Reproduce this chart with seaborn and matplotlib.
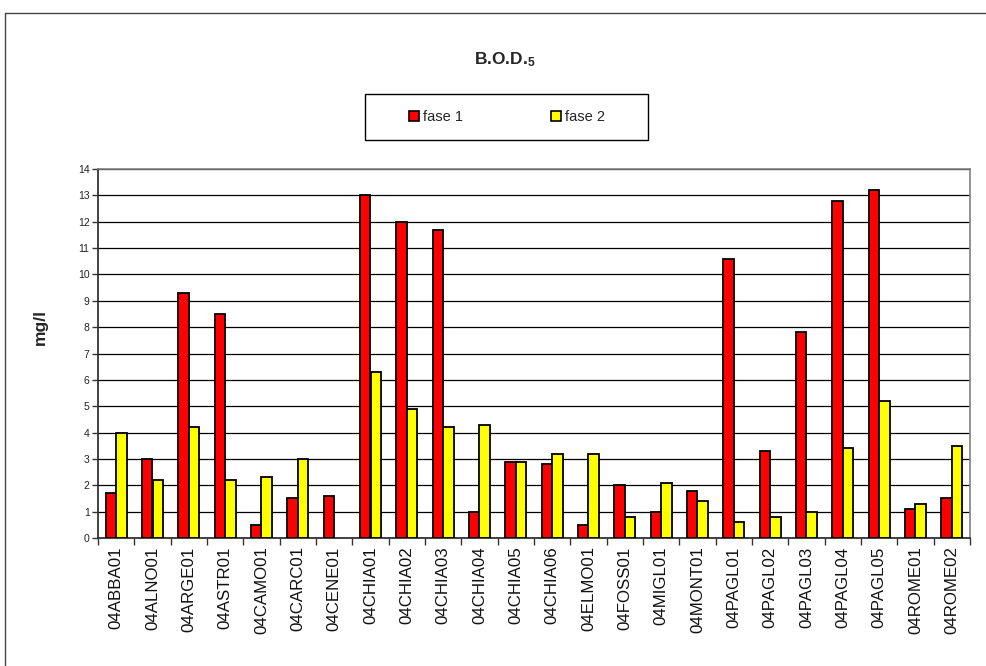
import matplotlib
matplotlib.use("Agg")
import matplotlib.pyplot as plt
from matplotlib.lines import Line2D
from matplotlib.patches import Rectangle, Patch
import numpy as np
import pandas as pd
import seaborn as sns

stations = ["04ABBA01", "04ALNO01", "04ARGE01", "04ASTR01", "04CAMO01", "04CARC01",
            "04CENE01", "04CHIA01", "04CHIA02", "04CHIA03", "04CHIA04", "04CHIA05",
            "04CHIA06", "04ELMO01", "04FOSS01", "04MIGL01", "04MONT01", "04PAGL01",
            "04PAGL02", "04PAGL03", "04PAGL04", "04PAGL05", "04ROME01", "04ROME02"]
fase1 = [1.7, 3.0, 9.3, 8.5, 0.5, 1.5, 1.6, 13.0, 12.0, 11.7, 1.0, 2.9,
         2.8, 0.5, 2.0, 1.0, 1.8, 10.6, 3.3, 7.8, 12.8, 13.2, 1.1, 1.5]
fase2 = [4.0, 2.2, 4.2, 2.2, 2.3, 3.0, np.nan, 6.3, 4.9, 4.2, 4.3, 2.9,
         3.2, 3.2, 0.8, 2.1, 1.4, 0.6, 0.8, 1.0, 3.4, 5.2, 1.3, 3.5]
series_names = ["fase 1", "fase 2"]
series_colors = ["#FF0000", "#FFFF00"]
y_ticks = list(range(0, 15))

sns.set_theme(style="white")
plt.rcParams["font.family"] = ["Liberation Sans", "DejaVu Sans"]
plt.rcParams["mathtext.fontset"] = "custom"
plt.rcParams["mathtext.bf"] = "Liberation Sans:bold"
plt.rcParams["mathtext.rm"] = "Liberation Sans:bold"
plt.rcParams["mathtext.default"] = "bf"

df = pd.DataFrame({
    "station": stations * 2,
    "value": fase1 + fase2,
    "fase": [series_names[0]] * len(stations) + [series_names[1]] * len(stations),
})

fig = plt.figure(figsize=(9.87, 6.66), dpi=100)
W, H = 987, 666
ax = fig.add_axes([98 / W, 1 - 538 / H, (970 - 98) / W, (538 - 169) / H])

sns.barplot(data=df, x="station", y="value", hue="fase", order=stations,
            hue_order=series_names, palette=series_colors, width=0.58,
            edgecolor="black", linewidth=1.3, saturation=1, ax=ax, legend=False,
            zorder=3)

ax.set_xlim(-0.5, len(stations) - 0.5)
ax.set_ylim(0, 14)
ax.set_yticks(y_ticks)
ax.set_yticklabels([str(t) for t in y_ticks], fontsize=7.5, color="#222222")
ax.yaxis.grid(True, color="black", linewidth=0.9, zorder=0)
ax.set_axisbelow(True)
ax.set_xlabel("")
ax.set_ylabel("")

# category labels, with tick marks placed between categories
ax.set_xticks(range(len(stations)))
ax.set_xticklabels(stations, rotation=90, fontsize=12.2, color="#111111")
ax.set_xticks(np.arange(-0.5, len(stations), 1.0), minor=True)
ax.tick_params(axis="x", which="major", length=0, pad=6)
ax.tick_params(axis="x", which="minor", length=5, width=1, color="#333333",
               direction="out", bottom=True)
ax.tick_params(axis="y", which="major", length=4, width=1, color="#333333",
               direction="out", left=True, pad=2)

for side in ["left", "bottom"]:
    ax.spines[side].set_color("#333333")
    ax.spines[side].set_linewidth(1.3)
for side in ["top", "right"]:
    ax.spines[side].set_visible(True)
    ax.spines[side].set_color("#808080")
    ax.spines[side].set_linewidth(1.2)

# outer chart frame
fig.add_artist(Line2D([5 / W, 5 / W], [0, 1 - 13 / H], color="#444444",
                      linewidth=1.0, transform=fig.transFigure))
fig.add_artist(Line2D([5 / W, 1], [1 - 13 / H, 1 - 13 / H], color="#444444",
                      linewidth=1.0, transform=fig.transFigure))

# title with subscript
fig.text(505 / W, 1 - 60 / H, r"B.O.D.$_5$", ha="center", va="center",
         fontsize=12.5, fontweight="bold")

# y axis label
fig.text(40 / W, 1 - 327 / H, "mg/l", rotation=90, ha="center", va="center",
         fontsize=12.5, fontweight="bold")

# legend in its own box
fig.add_artist(Rectangle((365 / W, 1 - 140 / H), (648 - 365) / W, 46 / H,
                         transform=fig.transFigure, facecolor="white",
                         edgecolor="black", linewidth=1.0))
handles = [Patch(facecolor=c, edgecolor="black", linewidth=1.2) for c in series_colors]
fig.legend(handles, series_names, loc="center", bbox_to_anchor=(507 / W, 1 - 117 / H),
           ncol=2, frameon=False, fontsize=10.5, handlelength=0.7, handleheight=0.7,
           handletextpad=0.3, columnspacing=6.0)

fig.savefig("out.png", dpi=100, facecolor="white")
